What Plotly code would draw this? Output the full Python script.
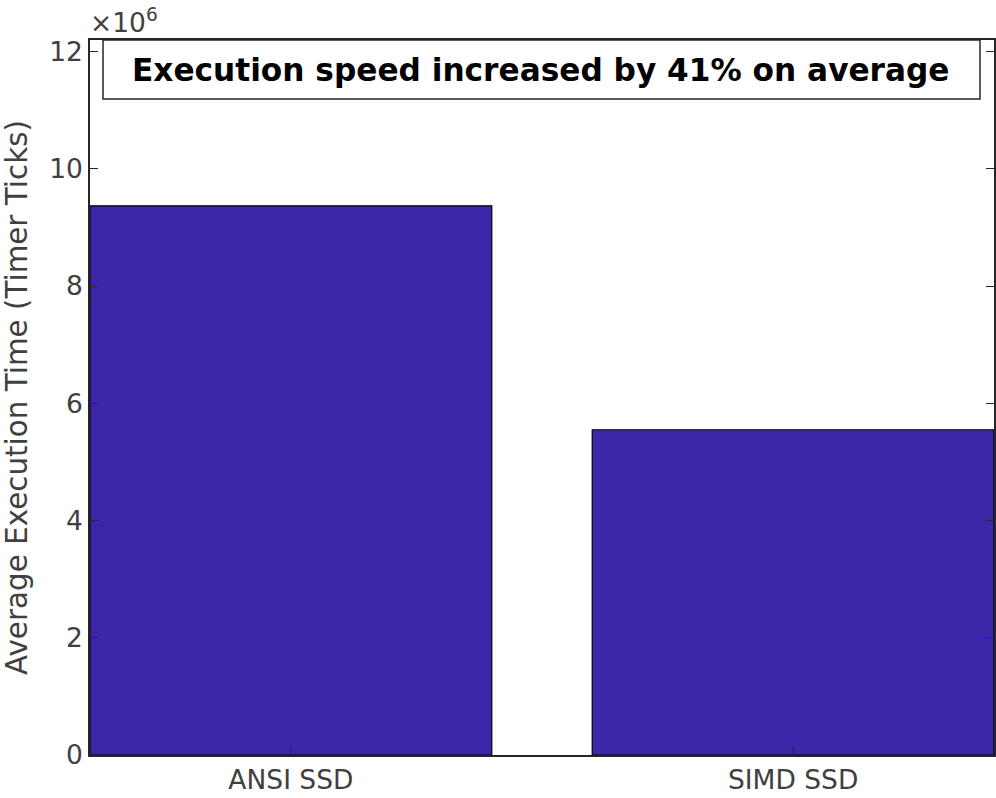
import plotly.graph_objects as go

# data
categories = ["ANSI SSD", "SIMD SSD"]
exec_ticks = [9.37e6, 5.55e6]
y_tickvals = [0, 2e6, 4e6, 6e6, 8e6, 10e6, 12e6]
y_ticktext = ["0", "2", "4", "6", "8", "10", "12"]

bar_color = "rgb(62,38,168)"
axis_grey = "#262626"
text_grey = "#404040"
font_family = "DejaVu Sans, Verdana, sans-serif"

fig = go.Figure()

fig.add_trace(go.Bar(
    x=categories,
    y=exec_ticks,
    marker=dict(color=bar_color, line=dict(color="black", width=1.2)),
    showlegend=False,
))

fig.update_layout(
    width=996,
    height=798,
    margin=dict(l=90, r=2, t=40, b=43),
    paper_bgcolor="white",
    plot_bgcolor="white",
    bargap=0.2,
    font=dict(family=font_family, size=26.5, color=text_grey),
)

fig.update_xaxes(
    range=[-0.4, 1.4],
    showline=True, linecolor=axis_grey, linewidth=1.5, mirror="ticks",
    ticks="inside", ticklen=8, tickcolor=axis_grey,
    tickfont=dict(size=26.5, color=text_grey),
    showgrid=False, automargin=False,
)
fig.update_yaxes(
    range=[0, 12.2e6],
    tickvals=y_tickvals, ticktext=y_ticktext,
    showline=True, linecolor=axis_grey, linewidth=1.5, mirror="ticks",
    ticks="inside", ticklen=8, tickcolor=axis_grey,
    tickfont=dict(size=26.5, color=text_grey),
    showgrid=False, zeroline=False, automargin=False,
    title=dict(text="Average Execution Time (Timer Ticks)", font=dict(size=29.4, color=text_grey)),
)

# exponent label above the y axis
fig.add_annotation(
    x=0, y=1, xref="paper", yref="paper", xanchor="left", yanchor="bottom",
    text="×10<sup>6</sup>", showarrow=False, yshift=0, xshift=-2,
    font=dict(size=26.5, color=text_grey),
)

# text box in the upper part of the axes
fig.add_shape(
    type="rect", xref="paper", yref="paper",
    x0=0.0144, x1=0.9845, y0=0.9175, y1=1.0,
    line=dict(color=axis_grey, width=1.5), fillcolor="white",
)
fig.add_annotation(
    x=0.4994, y=0.9587, xref="paper", yref="paper",
    xanchor="center", yanchor="middle",
    text="<b>Execution speed increased by 41% on average</b>", showarrow=False,
    font=dict(size=31.2, color="black"),
)

# drop the default 8px body margin so the figure fills the window
fig.write_html("out.html", config={"displayModeBar": False},
               post_script="document.body.style.margin='0px';")
